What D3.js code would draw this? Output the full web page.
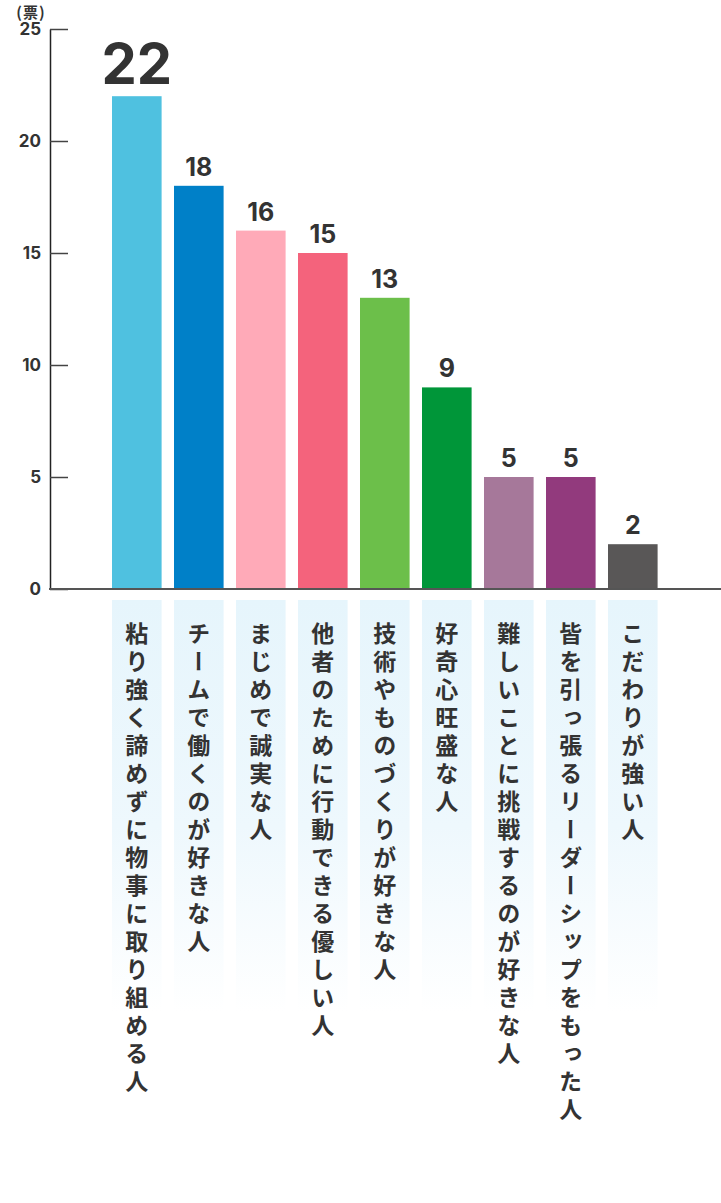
<!DOCTYPE html>
<html lang="ja">
<head>
    <meta charset="UTF-8">
    <title>票数</title>
    <script src="https://d3js.org/d3.v7.min.js"></script>
    <style>
        body {
            margin: 0;
            padding: 0;
            background: #fff;
        }
        #chart text {
            fill: #333;
        }
        .cat-label {
            font-family: "Noto Sans CJK JP", sans-serif;
            font-weight: 700;
            font-size: 23px;
            writing-mode: vertical-rl;
            text-orientation: upright;
            letter-spacing: 5px;
        }
        .value-label {
            font-family: Inter, "Noto Sans", sans-serif;
            font-weight: 700;
        }
        .y-axis text {
            font-family: Inter, "Noto Sans", sans-serif;
            font-weight: 700;
            font-size: 17px;
        }
    </style>
</head>
<body>
    <div id="chart"></div>
    <script>
        const categories = [
            "粘り強く諦めずに物事に取り組める人",
            "チームで働くのが好きな人",
            "まじめで誠実な人",
            "他者のために行動できる優しい人",
            "技術やものづくりが好きな人",
            "好奇心旺盛な人",
            "難しいことに挑戦するのが好きな人",
            "皆を引っ張るリーダーシップをもった人",
            "こだわりが強い人"
        ];
        const votes = [22, 18, 16, 15, 13, 9, 5, 5, 2];
        const barColors = ["#4fc1e0", "#0080c8", "#ffaab8", "#f4637c", "#6cbf4a", "#009639", "#a6789a", "#923a7d", "#595757"];
        const yTicks = [0, 5, 10, 15, 20, 25];
        const unitLabel = "(票)";

        const W = 721, H = 1203;
        const margin = { top: 29, left: 50, bottom: 614 };
        const plotBottom = H - margin.bottom;

        const svg = d3.select("#chart")
            .append("svg")
            .attr("width", W)
            .attr("height", H);

        const defs = svg.append("defs");
        const grad = defs.append("linearGradient")
            .attr("id", "labelBg")
            .attr("x1", 0).attr("y1", 0)
            .attr("x2", 0).attr("y2", 1);
        grad.append("stop").attr("offset", "0%").attr("stop-color", "#e6f5fc");
        grad.append("stop").attr("offset", "55%").attr("stop-color", "#eef8fd");
        grad.append("stop").attr("offset", "100%").attr("stop-color", "#ffffff");

        const x = d3.scaleBand()
            .domain(categories)
            .range([105.8, 663.8])
            .paddingInner(0.2)
            .paddingOuter(0.1);

        const y = d3.scaleLinear()
            .domain([0, 25])
            .range([plotBottom, margin.top]);

        // label backgrounds
        svg.append("g")
            .selectAll("rect")
            .data(categories)
            .join("rect")
            .attr("x", d => x(d))
            .attr("y", plotBottom + 11)
            .attr("width", x.bandwidth())
            .attr("height", 412)
            .attr("fill", "url(#labelBg)");

        // bars
        svg.append("g")
            .selectAll("rect")
            .data(votes)
            .join("rect")
            .attr("x", (d, i) => x(categories[i]))
            .attr("y", d => y(d))
            .attr("width", x.bandwidth())
            .attr("height", d => y(0) - y(d))
            .attr("fill", (d, i) => barColors[i]);

        // value labels
        svg.append("g")
            .selectAll("text")
            .data(votes)
            .join("text")
            .attr("class", "value-label")
            .attr("x", (d, i) => x(categories[i]) + x.bandwidth() / 2)
            .attr("y", (d, i) => y(d) - (i === 0 ? 12 : 10))
            .attr("text-anchor", "middle")
            .attr("font-size", (d, i) => i === 0 ? 56 : 25)
            .text(d => d);

        // y axis
        const yAxis = svg.append("g")
            .attr("class", "y-axis")
            .attr("transform", `translate(${margin.left},0)`)
            .call(d3.axisLeft(y).tickValues(yTicks).tickSizeInner(-18).tickSizeOuter(0).tickPadding(9));
        yAxis.select(".domain").attr("stroke", "#222").attr("stroke-width", 1.5);
        yAxis.selectAll(".tick line").attr("stroke", "#444").attr("stroke-width", 1.5);
        yAxis.selectAll(".tick text").attr("dy", "0.35em");

        // x baseline
        svg.append("line")
            .attr("x1", margin.left - 1)
            .attr("x2", W)
            .attr("y1", y(0))
            .attr("y2", y(0))
            .attr("stroke", "#555")
            .attr("stroke-width", 2);

        svg.append("text")
            .attr("x", 31)
            .attr("y", 18)
            .attr("text-anchor", "middle")
            .attr("font-family", "Noto Sans CJK JP, sans-serif")
            .attr("font-weight", 700)
            .attr("font-size", 15)
            .attr("letter-spacing", 1)
            .text(unitLabel);

        // category labels (vertical)
        svg.append("g")
            .selectAll("text")
            .data(categories)
            .join("text")
            .attr("class", "cat-label")
            .attr("x", d => x(d) + x.bandwidth() / 2)
            .attr("y", plotBottom + 33)
            .text(d => d);
    </script>
</body>
</html>
